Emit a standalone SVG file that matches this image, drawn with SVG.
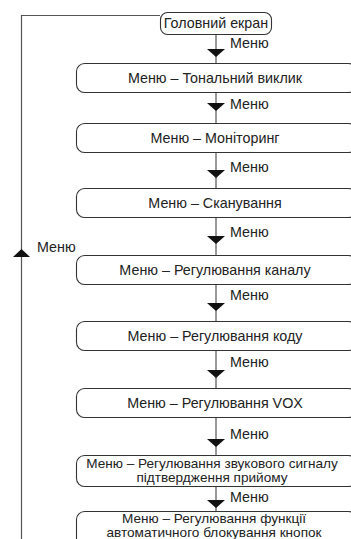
<svg xmlns="http://www.w3.org/2000/svg" width="351" height="539" viewBox="0 0 351 539">
<style>
.box{fill:#fff;stroke:#333;stroke-width:1.1}
.ln{fill:none;stroke:#555;stroke-width:1.2}
.ah{fill:#111}
text{font-family:"Liberation Sans",Arial,sans-serif;font-size:14.3px;fill:#222}
.c{text-anchor:middle}
.s{font-size:13.6px}
</style>
<rect width="351" height="539" fill="#fff"/>
<g id="connectors">
<path class="ln" d="M160,15.5 H21.5 V539"/>
<polygon class="ah" points="21.5,249 13,257 30,257"/>
<text x="37" y="252">Меню</text>
<path class="ln" d="M216,35 V63"/><polygon class="ah" points="207,49 225,49 216,57"/><text x="230" y="48">Меню</text>
<path class="ln" d="M216,93 V123"/><polygon class="ah" points="207,103 225,103 216,111"/><text x="230" y="109">Меню</text>
<path class="ln" d="M216,152 V188"/><polygon class="ah" points="207,170 225,170 216,178"/><text x="230" y="172">Меню</text>
<path class="ln" d="M216,218 V255"/><polygon class="ah" points="207,236 225,236 216,244"/><text x="230" y="237">Меню</text>
<path class="ln" d="M216,284 V321"/><polygon class="ah" points="207,303 225,303 216,311"/><text x="230" y="300">Меню</text>
<path class="ln" d="M216,351 V388"/><polygon class="ah" points="207,370 225,370 216,378"/><text x="230" y="367">Меню</text>
<path class="ln" d="M216,417 V455"/><polygon class="ah" points="207,439 225,439 216,447"/><text x="230" y="439">Меню</text>
<path class="ln" d="M216,487 V511"/><polygon class="ah" points="207,500 225,500 216,508"/><text x="230" y="502">Меню</text>
</g>
<g id="n0"><rect class="box" x="160.5" y="12.5" width="111" height="22" rx="7"/><text class="c" x="216" y="28">Головний екран</text></g>
<g id="n1"><rect class="box" x="76.5" y="63.5" width="280" height="29" rx="8"/><text class="c" x="215" y="83">Меню – Тональний виклик</text></g>
<g id="n2"><rect class="box" x="76.5" y="123.5" width="280" height="29" rx="8"/><text class="c" x="215" y="143">Меню – Моніторинг</text></g>
<g id="n3"><rect class="box" x="76.5" y="188.5" width="280" height="29" rx="8"/><text class="c" x="215" y="208">Меню – Сканування</text></g>
<g id="n4"><rect class="box" x="76.5" y="255.5" width="280" height="29" rx="8"/><text class="c" x="215" y="275">Меню – Регулювання каналу</text></g>
<g id="n5"><rect class="box" x="76.5" y="321.5" width="280" height="29" rx="8"/><text class="c" x="215" y="341">Меню – Регулювання коду</text></g>
<g id="n6"><rect class="box" x="76.5" y="388.5" width="280" height="29" rx="8"/><text class="c" x="215" y="408">Меню – Регулювання VOX</text></g>
<g id="n7"><rect class="box" x="76.5" y="455.5" width="280" height="31" rx="8"/><text class="c s" x="212" y="467.5">Меню – Регулювання звукового сигналу</text><text class="c s" x="212" y="481.5">підтвердження прийому</text></g>
<g id="n8"><rect class="box" x="76.5" y="511.5" width="280" height="40" rx="8"/><text class="c s" x="214" y="522.5">Меню – Регулювання функції</text><text class="c s" x="214" y="536.5">автоматичного блокування кнопок</text></g>
</svg>
